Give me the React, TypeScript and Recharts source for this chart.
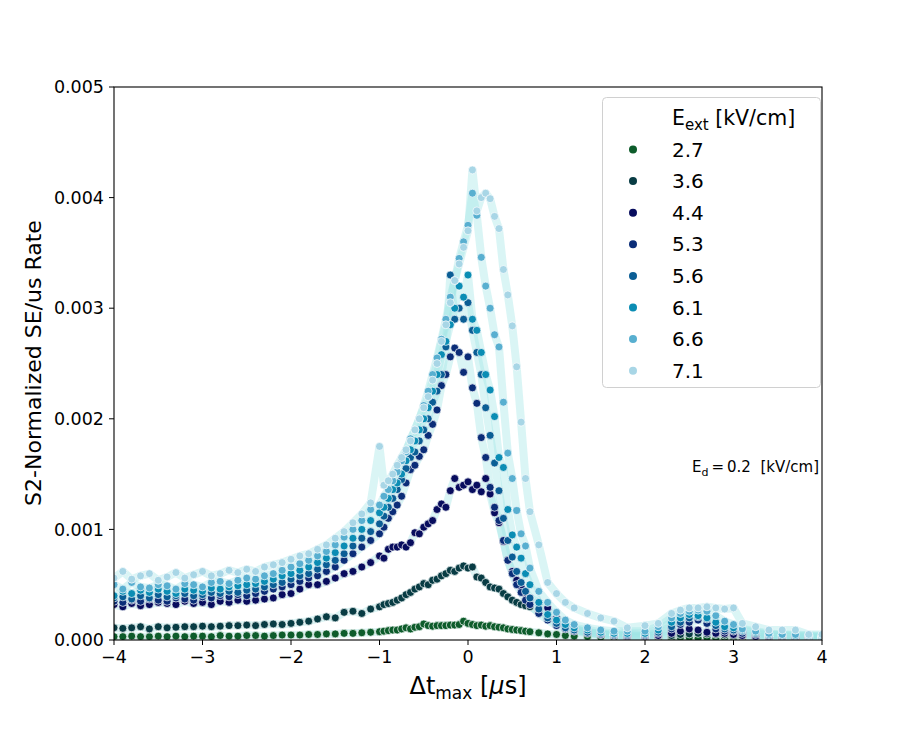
import React from 'react'
import {
  ComposedChart,
  Line,
  Scatter,
  XAxis,
  YAxis,
} from 'recharts'

// Δt_max bin centres [µs]
const dtMax = [
  -4.0, -3.9, -3.8, -3.7, -3.6, -3.5, -3.4, -3.3, -3.2, -3.1,
  -3.0, -2.9, -2.8, -2.7, -2.6, -2.5, -2.4, -2.3, -2.2, -2.1,
  -2.0, -1.9, -1.8, -1.7, -1.6, -1.5, -1.4, -1.3, -1.2, -1.1,
  -1.0, -0.95, -0.9, -0.85, -0.8, -0.75, -0.7, -0.65, -0.6, -0.55,
  -0.5, -0.45, -0.4, -0.35, -0.3, -0.25, -0.2, -0.15, -0.1, -0.05,
  0.0, 0.05, 0.1, 0.15, 0.2, 0.25, 0.3, 0.35, 0.4, 0.45,
  0.5, 0.55, 0.6, 0.65, 0.7,
  0.8, 0.9, 1.0, 1.1, 1.2, 1.35, 1.5, 1.65, 1.8, 2.0,
  2.15, 2.3, 2.4, 2.5, 2.6, 2.7, 2.8, 2.9, 3.0, 3.1,
  3.25, 3.4, 3.55, 3.7, 3.85, 4.0,
]

// rates in units of 1e-4
const e27 = [
  0.3, 0.3, 0.35, 0.3, 0.3, 0.35, 0.3, 0.35, 0.3, 0.35, 0.35, 0.3, 0.4, 0.35, 0.35, 0.4, 0.4, 0.35, 0.4, 0.45, 0.45, 0.45, 0.5, 0.5, 0.55, 0.55, 0.6, 0.6, 0.65, 0.7,
  0.75, 0.8, 0.85, 0.9, 0.9, 1.0, 1.1, 1.0, 1.15, 1.2, 1.45, 1.3, 1.25, 1.3, 1.3, 1.3, 1.35, 1.35, 1.4, 1.7, 1.5, 1.4, 1.3, 1.35, 1.25, 1.3, 1.2, 1.15, 1.1, 1.0, 0.95, 0.9, 0.85, 0.8, 0.75,
  0.65, 0.55, 0.5, 0.4, 0.35, 0.3, 0.25, 0.2, 0.2, 0.2, 0.15, 0.15, 0.2, 0.2, 0.15, 0.2, 0.15, 0.15, 0.15, 0.1, 0.1, 0.1, 0.1, 0.1, 0.1, 0.1,
]
const e36 = [
  1.1, 1.05, 1.1, 1.2, 1.0, 1.2, 1.1, 1.15, 1.2, 1.2, 1.25, 1.2, 1.25, 1.3, 1.3, 1.35, 1.3, 1.4, 1.45, 1.4, 1.5, 1.6, 1.7, 1.9, 2.1, 2.0, 2.5, 2.6, 2.4, 2.8,
  3.0, 3.2, 3.3, 3.4, 3.6, 3.8, 4.1, 4.3, 4.6, 4.8, 5.1, 5.0, 5.4, 5.5, 5.8, 6.0, 6.3, 6.2, 6.5, 6.7, 6.5, 6.6, 5.7, 5.6, 5.2, 4.8, 4.7, 4.6, 4.2, 3.9, 3.6, 3.4, 3.2, 3.1, 3.0,
  2.6, 2.2, 1.7, 1.3, 1.0, 0.7, 0.55, 0.45, 0.4, 0.35, 0.35, 0.4, 0.5, 0.55, 0.6, 0.55, 0.5, 0.45, 0.4, 0.35, 0.3, 0.3, 0.25, 0.25, 0.2, 0.2,
]
const e44 = [
  3.2, 3.0, 3.3, 3.1, 3.2, 3.4, 3.3, 3.2, 3.5, 3.3, 3.4, 3.2, 3.5, 3.4, 3.6, 3.5, 3.6, 3.7, 3.8, 4.1, 4.2, 4.6, 5.0, 5.0, 5.3, 5.6, 6.0, 6.2, 6.6, 7.0,
  7.6, 7.4, 8.2, 8.4, 8.4, 8.6, 8.4, 8.8, 9.7, 9.6, 10.2, 10.5, 10.8, 11.8, 12.3, 12.0, 13.5, 14.6, 13.8, 14.0, 14.3, 13.6, 14.0, 13.4, 14.6, 13.2, 11.5, 10.6, 8.9, 7.2, 6.2, 5.4, 4.8, 4.2, 3.8,
  3.4, 2.9, 2.0, 1.3, 1.0, 0.7, 0.5, 0.4, 0.3, 0.3, 0.4, 0.6, 0.8, 1.0, 0.9, 0.7, 0.6, 0.6, 0.5, 0.4, 0.3, 0.3, 0.3, 0.2, 0.2, 0.2,
]
const e53 = [
  3.5, 3.4, 3.6, 3.5, 3.7, 3.6, 3.5, 3.8, 3.7, 3.6, 3.9, 3.8, 4.0, 3.9, 4.1, 4.0, 4.2, 4.4, 4.6, 4.8, 5.0, 5.3, 5.6, 5.8, 6.2, 6.6, 7.2, 7.8, 8.4, 9.0,
  9.6, 10.2, 11.0, 11.6, 12.2, 13.0, 14.2, 15.4, 15.8, 16.6, 17.2, 18.5, 19.5, 20.8, 23.0, 24.0, 25.6, 26.4, 26.0, 24.2, 25.6, 22.8, 21.4, 18.3, 16.5, 13.8, 12.0, 10.8, 9.0, 7.2, 6.0, 5.0, 4.3, 3.6, 3.2,
  2.4, 1.8, 1.3, 1.0, 0.8, 0.6, 0.5, 0.4, 0.4, 0.4, 0.6, 1.0, 1.4, 1.6, 1.8, 1.5, 1.0, 0.8, 0.8, 0.6, 0.5, 0.4, 0.4, 0.3, 0.3, 0.3,
]
const e56 = [
  3.8, 3.9, 3.7, 4.0, 3.8, 4.1, 3.9, 4.0, 4.2, 4.0, 4.1, 4.3, 4.2, 4.4, 4.3, 4.5, 4.6, 4.8, 5.0, 5.2, 5.5, 5.8, 6.0, 6.4, 6.8, 7.2, 7.8, 8.5, 9.2, 9.8,
  10.5, 11.2, 12.0, 12.8, 13.6, 14.5, 15.5, 16.5, 17.0, 18.0, 19.0, 20.0, 21.5, 22.5, 24.0, 26.5, 33.0, 29.0, 30.0, 29.0, 30.5, 28.0, 26.0, 24.0, 21.0, 18.5, 16.0, 13.5, 11.0, 9.0, 7.5, 6.2, 5.2, 4.4, 3.8,
  2.8, 2.0, 1.5, 1.1, 0.9, 0.7, 0.6, 0.5, 0.5, 0.5, 0.7, 1.2, 1.6, 2.0, 2.1, 1.9, 1.3, 1.0, 0.9, 0.8, 0.6, 0.5, 0.4, 0.4, 0.3, 0.3,
]
const e61 = [
  4.0, 4.4, 4.2, 4.5, 4.3, 4.6, 4.4, 4.2, 4.6, 4.5, 4.4, 4.7, 4.6, 4.8, 4.9, 5.0, 5.1, 5.3, 5.5, 5.8, 6.0, 6.3, 6.6, 7.0, 7.4, 7.9, 8.5, 9.2, 10.0, 10.8,
  11.5, 12.0, 12.8, 13.6, 14.2, 15.0, 16.2, 17.2, 18.0, 19.0, 20.0, 21.0, 22.5, 24.0, 25.8, 27.0, 28.5, 30.0, 32.0, 31.0, 33.0, 29.0, 28.0, 26.0, 24.0, 22.6, 20.2, 16.5, 15.6, 11.8, 9.5, 8.4, 7.4, 6.0, 5.0,
  3.4, 2.3, 1.8, 1.4, 1.1, 0.9, 0.7, 0.6, 0.6, 0.6, 0.9, 1.6, 2.0, 2.3, 2.2, 2.0, 1.6, 1.2, 1.1, 0.9, 0.7, 0.5, 0.5, 0.4, 0.4, 0.3,
]
const e66 = [
  5.0, 4.6, 5.2, 4.8, 4.7, 5.0, 4.9, 4.6, 5.1, 5.0, 4.8, 5.2, 5.3, 5.1, 5.4, 5.6, 5.5, 5.8, 6.0, 6.3, 6.6, 6.9, 7.2, 7.6, 8.0, 8.6, 9.3, 10.0, 10.8, 11.8,
  12.2, 13.0, 13.6, 14.4, 15.2, 16.2, 17.0, 18.2, 19.0, 20.0, 21.2, 22.5, 24.0, 25.5, 27.2, 29.0, 31.0, 32.5, 34.5, 36.0, 37.5, 40.4, 38.4, 34.6, 32.0, 30.0, 27.6, 26.5, 21.5, 16.9, 14.6, 11.7, 9.6, 8.5, 6.5,
  4.4, 3.4, 2.5, 1.8, 1.4, 1.1, 0.9, 0.8, 0.8, 0.8, 1.2, 2.0, 2.4, 2.6, 2.7, 2.6, 2.2, 1.7, 1.4, 1.0, 0.8, 0.6, 0.5, 0.5, 0.4, 0.4,
]
const e71 = [
  5.6, 6.2, 5.5, 5.8, 6.0, 5.4, 5.7, 6.1, 5.6, 5.9, 6.2, 5.8, 6.0, 6.3, 6.1, 6.4, 6.2, 6.6, 6.8, 7.0, 7.3, 7.6, 7.8, 8.2, 8.6, 9.2, 9.8, 10.6, 11.4, 12.4,
  17.5, 14.0, 14.4, 15.0, 15.8, 16.5, 17.2, 18.0, 19.0, 20.0, 21.0, 22.0, 23.5, 25.0, 27.0, 28.5, 30.5, 32.5, 34.0, 35.5, 37.0, 42.5, 38.8, 40.0, 40.4, 39.9, 38.3, 37.2, 33.5, 31.2, 28.4, 24.7, 19.7, 14.6, 11.6,
  8.6, 5.2, 4.2, 3.4, 2.9, 2.4, 2.0, 1.7, 1.1, 1.3, 1.5, 2.4, 2.7, 2.9, 2.9, 3.0, 2.9, 2.8, 2.9, 1.5, 1.2, 0.9, 0.9, 0.9, 0.5, 0.5,
]

const fieldLabels = ['2.7', '3.6', '4.4', '5.3', '5.6', '6.1', '6.6', '7.1']
const seriesKeys = ['e27', 'e36', 'e44', 'e53', 'e56', 'e61', 'e66', 'e71']
const colors = ['#0d5c2b', '#083c44', '#080d5e', '#0b2d78', '#0b5e95', '#0b8db4', '#58afd0', '#a8d6e6']

const yTicks = [0, 10, 20, 30, 40, 50]
const xTicks = [-4, -3, -2, -1, 0, 1, 2, 3, 4]

const rows = dtMax.map((x, i) => ({
  x,
  e27: e27[i],
  e36: e36[i],
  e44: e44[i],
  e53: e53[i],
  e56: e56[i],
  e61: e61[i],
  e66: e66[i],
  e71: e71[i],
}))

const FONT = 'DejaVu Sans'
const tickStyle = { fontSize: 17.5, fontFamily: FONT, fill: '#000' }

const fmtX = (v: number) => (v < 0 ? '\u2212' + Math.abs(v) : String(v))
const fmtY = (v: number) => (v / 10000).toFixed(3)

function dot(color: string) {
  return (props: any) => {
    if (props.cx == null || props.cy == null) return <g />
    return <circle cx={props.cx} cy={props.cy} r={4} fill={color} stroke="#fff" strokeWidth={0.7} />
  }
}

export default function App() {
  return (
    <div style={{ position: 'absolute', left: 0, top: 0, width: 913, height: 731, background: '#fff' }}>
      <ComposedChart
        width={913}
        height={731}
        data={rows}
        margin={{ top: 87, right: 91, bottom: 61, left: 54 }}
      >
        <XAxis
          dataKey="x"
          type="number"
          domain={[-4, 4]}
          ticks={xTicks}
          tickFormatter={fmtX}
          tick={tickStyle}
          tickSize={5}
          tickMargin={6}
          tickLine={{ stroke: '#000' }}
          axisLine={false}
          height={30}
          allowDataOverflow
        />
        <YAxis
          type="number"
          domain={[0, 50]}
          ticks={yTicks}
          tickFormatter={fmtY}
          tick={tickStyle}
          tickSize={5}
          tickMargin={5}
          tickLine={{ stroke: '#000' }}
          axisLine={false}
          width={60}
          allowDataOverflow
        />
        {seriesKeys.map((k) => (
          <Line
            key={'band-' + k}
            dataKey={k}
            type="linear"
            stroke="#9fe4e6"
            strokeOpacity={0.38}
            strokeWidth={8}
            strokeLinejoin="round"
            dot={false}
            activeDot={false}
            isAnimationActive={false}
          />
        ))}
        {seriesKeys.map((k, i) => (
          <Scatter
            key={'pts-' + k}
            dataKey={k}
            fill={colors[i]}
            shape={dot(colors[i])}
            isAnimationActive={false}
          />
        ))}
      </ComposedChart>
      <svg
        width={913}
        height={731}
        style={{ position: 'absolute', left: 0, top: 0, pointerEvents: 'none' }}
        fontFamily={FONT}
      >
        <rect x={114} y={87} width={708} height={553} fill="none" stroke="#000" strokeWidth={1.1} />
        <text transform="translate(41,363) rotate(-90)" textAnchor="middle" fontSize={22}>
          S2-Normalized SE/us Rate
        </text>
        <text x={468} y={694} textAnchor="middle" fontSize={24}>
          Δt
          <tspan fontSize={17} dy={5}>max</tspan>
          <tspan dy={-5}> [</tspan>
          <tspan fontStyle="italic">μ</tspan>
          <tspan>s]</tspan>
        </text>
        <text x={692} y={472} fontSize={15} xmlSpace="preserve">
          E<tspan fontSize={11} dy={4}>d</tspan>
          <tspan dy={-4}>{'\u2009=\u20090.2  [kV/cm]'}</tspan>
        </text>
        <rect x={602.5} y={97.5} width={218} height={290} rx={4} fill="#fff" fillOpacity={0.8} stroke="#d0d0d0" />
        <text x={672} y={125} fontSize={20.5}>
          E<tspan fontSize={15} dy={5}>ext</tspan>
          <tspan dy={-5}> [kV/cm]</tspan>
        </text>
        {fieldLabels.map((lab, i) => (
          <g key={lab}>
            <circle cx={633} cy={149.5 + 31.6 * i} r={4} fill={colors[i]} />
            <text x={672} y={149.5 + 31.6 * i + 7} fontSize={20}>{lab}</text>
          </g>
        ))}
      </svg>
    </div>
  )
}
